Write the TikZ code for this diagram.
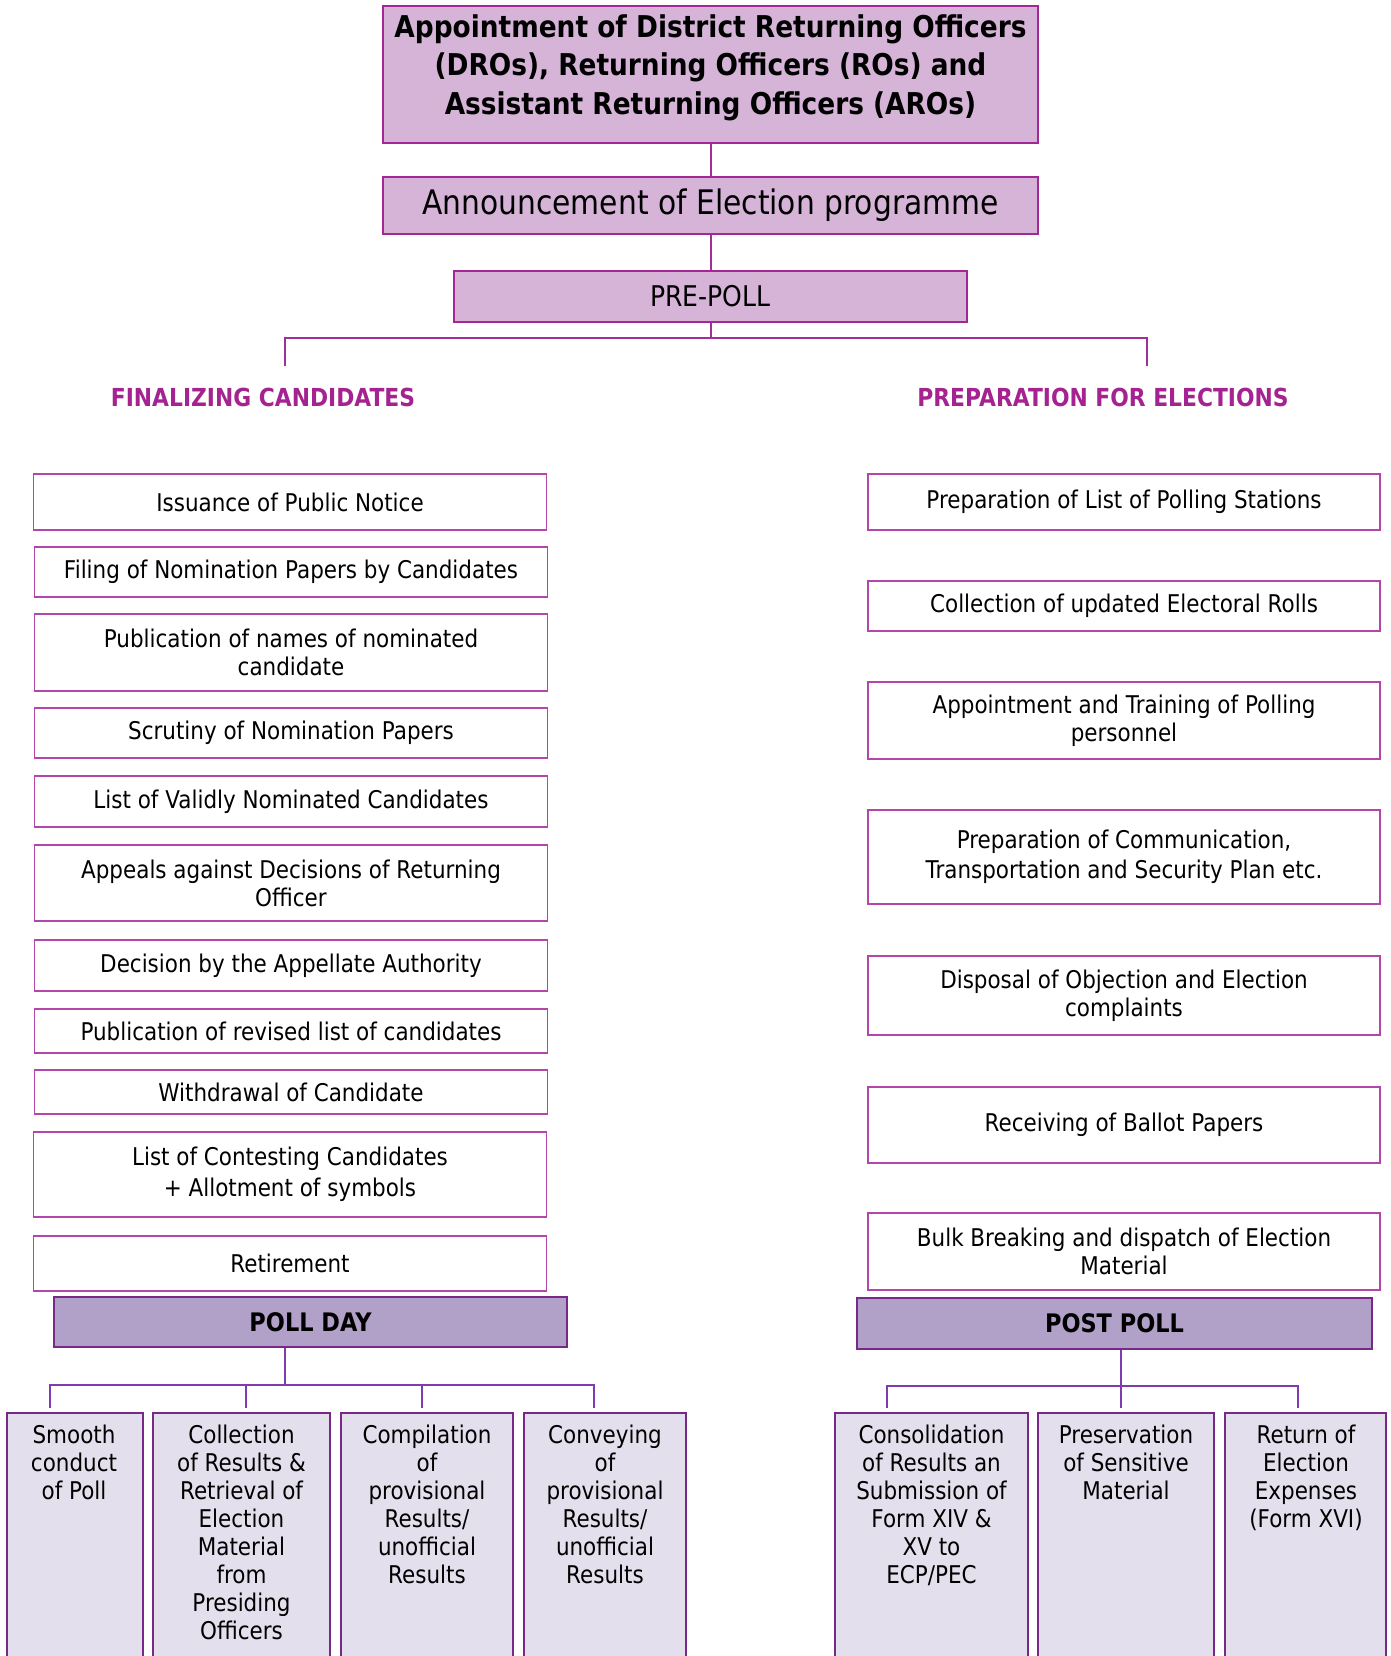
\documentclass[tikz,border=0pt]{standalone}
\usepackage{fontspec}
\usetikzlibrary{calc}
\setmainfont{DejaVu Sans}[FakeStretch=0.88]
\definecolor{topF}{RGB}{213,180,216}
\definecolor{magB}{RGB}{163,40,150}
\definecolor{boxB}{RGB}{180,70,170}
\definecolor{connM}{RGB}{163,45,155}
\definecolor{labM}{RGB}{165,35,145}
\definecolor{phF}{RGB}{177,160,199}
\definecolor{phB}{RGB}{120,40,135}
\definecolor{botF}{RGB}{228,223,236}
\definecolor{connP}{RGB}{128,60,175}
\newcommand{\bodyfont}{\fontsize{24.4}{28}\selectfont}
\tikzset{
  topbox/.style={draw=magB, fill=topF, line width=2.5pt, minimum width=655pt},
  lbox/.style={draw=boxB, line width=1.6pt, fill=white, align=center, font=\bodyfont, minimum width=513pt, inner sep=0pt},
  phase/.style={draw=phB, fill=phF, line width=2pt, font=\fontsize{25.5}{28}\selectfont\bfseries, minimum width=513pt, minimum height=50pt},
  botbox/.style={draw=phB, fill=botF, line width=2pt, anchor=north, minimum height=300pt},
  bottext/.style={anchor=north, align=center, font=\fontsize{24.4}{28}\selectfont, inner sep=0pt},
  conn/.style={draw=connM, line width=2pt},
  conn2/.style={draw=connP, line width=2pt},
  seclab/.style={text=labM, font=\fontsize{24.8}{28}\selectfont\bfseries}
}
\begin{document}
\begin{tikzpicture}[x=1pt,y=-1pt]
\useasboundingbox (0,0) rectangle (1390,1656);
\fill[white] (0,0) rectangle (1390,1656);

% top boxes
\node[topbox, minimum height=137pt] (t1) at (710.5,74.5) {};
\node[align=center, font=\fontsize{30}{38.5}\selectfont\bfseries, inner sep=0pt] (t1txt) at (710.5,67.5)
  {Appointment of District Returning Officers\\(DROs), Returning Officers (ROs) and\\Assistant Returning Officers (AROs)};
\node[topbox, minimum height=57pt, font=\fontsize{33.8}{38}\selectfont] (t2) at (710.5,205.5) {Announcement of Election programme};
\node[topbox, line width=2pt, minimum width=513pt, minimum height=51pt, font=\fontsize{28.5}{30}\selectfont] (pre) at (710.5,296.5) {PRE-POLL};

\draw[conn] (t1.south) -- (t2.north);
\draw[conn] (t2.south) -- (pre.north);
\coordinate (brL) at (285,338);
\coordinate (brR) at (1147,338);
\coordinate (dL) at (285,366);
\coordinate (dR) at (1147,366);
\draw[conn] (pre.south) -- (pre.south |- brL);
\draw[conn] (dL) -- (brL) -- (brR) -- (dR);

\node[seclab] (finl) at (263,397) {FINALIZING CANDIDATES};
\node[seclab] (prep) at (1103,397) {PREPARATION FOR ELECTIONS};

% left column
\node[lbox, minimum height=56pt] (l1) at (290,502) {Issuance of Public Notice};
\node[lbox, minimum height=50pt] (l2) at (291,572) {Filing of Nomination Papers by Candidates};
\node[lbox, minimum height=77pt] (l3) at (291,652.5) {Publication of names of nominated\\candidate};
\node[lbox, minimum height=50pt] (l4) at (291,733) {Scrutiny of Nomination Papers};
\node[lbox, minimum height=51pt] (l5) at (291,801.5) {List of Validly Nominated Candidates};
\node[lbox, minimum height=76pt] (l6) at (291,883) {Appeals against Decisions of Returning\\Officer};
\node[lbox, minimum height=51pt] (l7) at (291,965.5) {Decision by the Appellate Authority};
\node[lbox, minimum height=44pt] (l8) at (291,1031) {Publication of revised list of candidates};
\node[lbox, minimum height=44pt] (l9) at (291,1092) {Withdrawal of Candidate};
\node[lbox, minimum height=85pt, font=\fontsize{24.4}{31}\selectfont] (l10) at (290,1174.5) {List of Contesting Candidates\\+ Allotment of symbols};
\node[lbox, minimum height=55pt] (l11) at (290,1263.5) {Retirement};

% right column
\node[lbox, minimum width=512pt, minimum height=56pt] (r1) at (1124,502) {Preparation of List of Polling Stations};
\node[lbox, minimum width=512pt, minimum height=50pt] (r2) at (1124,606) {Collection of updated Electoral Rolls};
\node[lbox, minimum width=512pt, minimum height=77pt] (r3) at (1124,720.5) {Appointment and Training of Polling\\personnel};
\node[lbox, minimum width=512pt, minimum height=94pt, font=\fontsize{24.4}{30}\selectfont] (r4) at (1124,857) {Preparation of Communication,\\Transportation and Security Plan etc.};
\node[lbox, minimum width=512pt, minimum height=79pt] (r5) at (1124,995.5) {Disposal of Objection and Election\\complaints};
\node[lbox, minimum width=512pt, minimum height=76pt] (r6) at (1124,1125) {Receiving of Ballot Papers};
\node[lbox, minimum width=512pt, minimum height=77pt] (r7) at (1124,1251.5) {Bulk Breaking and dispatch of Election\\Material};

% phases
\node[phase] (pd) at (310.5,1322) {POLL DAY};
\node[phase, minimum width=515pt, minimum height=51pt] (pp) at (1114.5,1323.5) {POST POLL};

% bottom boxes left
\node[botbox, minimum width=136pt] (b1) at (75,1412) {};
\node[botbox, minimum width=177pt] (b2) at (241.5,1412) {};
\node[botbox, minimum width=172pt] (b3) at (427,1412) {};
\node[botbox, minimum width=162pt] (b4) at (605,1412) {};
\node[bottext] (b1t) at (74,1425) {Smooth\\conduct\\of Poll};
\node[bottext] (b2t) at (241.5,1425) {Collection\\of Results \&\\Retrieval of\\Election\\Material\\from\\Presiding\\Officers};
\node[bottext] (b3t) at (427,1425) {Compilation\\of\\provisional\\Results/\\unofficial\\Results};
\node[bottext] (b4t) at (605,1425) {Conveying\\of\\provisional\\Results/\\unofficial\\Results};

% bottom boxes right
\node[botbox, minimum width=193pt] (c1) at (931.5,1412) {};
\node[botbox, minimum width=176pt] (c2) at (1126,1412) {};
\node[botbox, minimum width=161pt] (c3) at (1305.5,1412) {};
\node[bottext] (c1t) at (931.5,1425) {Consolidation\\of Results an\\Submission of\\Form XIV \&\\XV to\\ECP/PEC};
\node[bottext] (c2t) at (1126,1425) {Preservation\\of Sensitive\\Material};
\node[bottext] (c3t) at (1306,1425) {Return of\\Election\\Expenses\\(Form XVI)};

% poll day connectors
\coordinate (pdbar) at (285,1385);
\coordinate (pa) at (50,1385);
\coordinate (pb) at (246,1385);
\coordinate (pc) at (422,1385);
\coordinate (pe) at (594,1385);
\draw[conn2] (pd.south -| pdbar) -- (pdbar);
\draw[conn2] ($(b1.north -| pa)+(0,-4)$) -- (pa) -- (pe) -- ($(b4.north -| pe)+(0,-4)$);
\draw[conn2] (pb) -- ($(b2.north -| pb)+(0,-4)$);
\draw[conn2] (pc) -- ($(b3.north -| pc)+(0,-4)$);

% post poll connectors
\coordinate (ppbar) at (1121,1386);
\coordinate (qa) at (887,1386);
\coordinate (qc) at (1298,1386);
\draw[conn2] (pp.south -| ppbar) -- ($(c2.north -| ppbar)+(0,-4)$);
\draw[conn2] ($(c1.north -| qa)+(0,-4)$) -- (qa) -- (qc) -- ($(c3.north -| qc)+(0,-4)$);
\end{tikzpicture}
\end{document}
